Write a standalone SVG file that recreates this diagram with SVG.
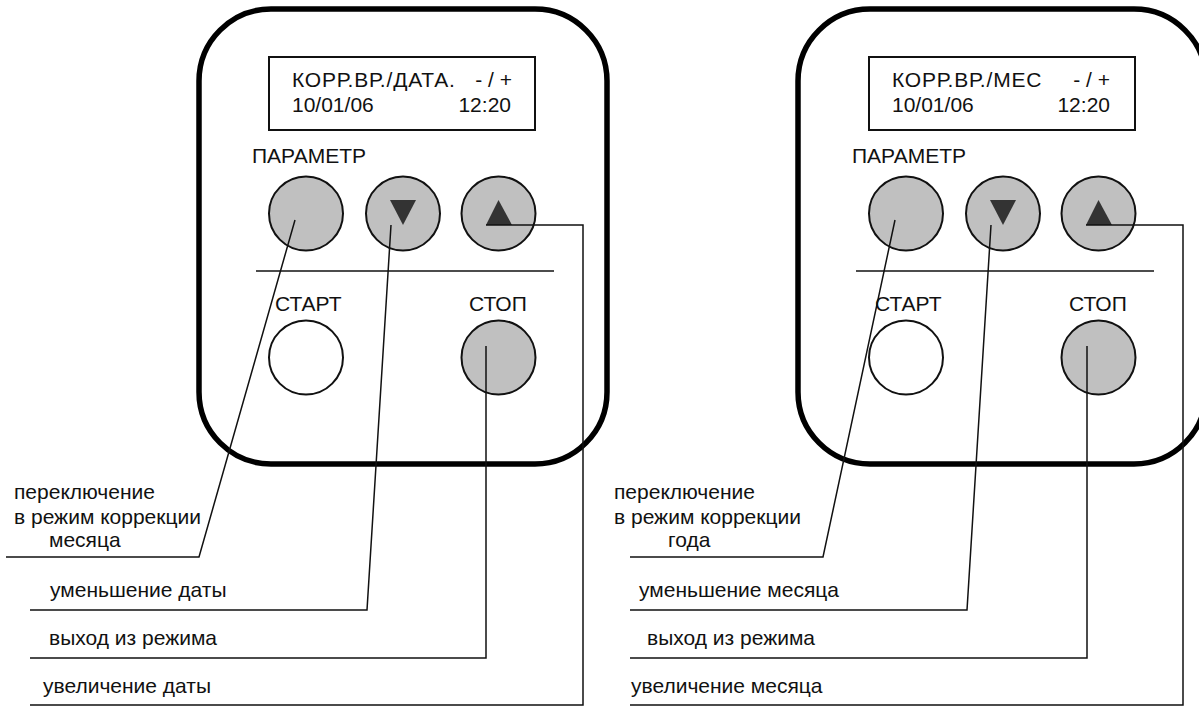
<svg xmlns="http://www.w3.org/2000/svg" width="1199" height="706" viewBox="0 0 1199 706">
<style>
text{font-family:"Liberation Sans",Arial,sans-serif;font-size:21px;fill:#111}
.l1{letter-spacing:0.8px}
.body{fill:none;stroke:#000;stroke-width:5.5}
.disp{fill:#fff;stroke:#111;stroke-width:2}
.btn{fill:#c0c0c0;stroke:#111;stroke-width:2}
.btnw{fill:#fff;stroke:#111;stroke-width:2}
.tri{fill:#333}
.div{stroke:#111;stroke-width:1.5}
.lead{fill:none;stroke:#111;stroke-width:1.5}
.end{text-anchor:end}
</style>
<rect width="1199" height="706" fill="#fff"/>
<g id="panel-left">
<rect class="body" x="199" y="9" width="408" height="455" rx="72"/>
<g id="display-left">
<rect class="disp" x="269" y="57" width="266" height="73"/>
<text class="l1" x="292" y="87">КОРР.ВР./ДАТА.</text>
<text class="end" x="512" y="87">- / +</text>
<text x="292" y="112">10/01/06</text>
<text class="end" x="511" y="112">12:20</text>
</g>
<text x="252" y="163">ПАРАМЕТР</text>
<g id="btn-param-left"><circle class="btn" cx="306" cy="213.5" r="37"/></g>
<g id="btn-down-left"><circle class="btn" cx="403" cy="213.5" r="37"/><polygon class="tri" points="390,200 416,200 403,225"/></g>
<g id="btn-up-left"><circle class="btn" cx="498.5" cy="213.5" r="37"/><polygon class="tri" points="486,225 512,225 498.5,200"/></g>
<line class="div" x1="256" y1="271" x2="554" y2="271"/>
<text x="275" y="311">СТАРТ</text>
<text x="469" y="311">СТОП</text>
<g id="btn-start-left"><circle class="btnw" cx="306" cy="357.5" r="37"/></g>
<g id="btn-stop-left"><circle class="btn" cx="498.5" cy="357.5" r="37"/></g>
</g>
<g id="panel-right">
<rect class="body" x="798" y="9" width="408" height="455" rx="72"/>
<g id="display-right">
<rect class="disp" x="869" y="57" width="266" height="73"/>
<text class="l1" x="892" y="87">КОРР.ВР./МЕС</text>
<text class="end" x="1110" y="87">- / +</text>
<text x="892" y="112">10/01/06</text>
<text class="end" x="1110" y="112">12:20</text>
</g>
<text x="852" y="163">ПАРАМЕТР</text>
<g id="btn-param-right"><circle class="btn" cx="906" cy="213.5" r="37"/></g>
<g id="btn-down-right"><circle class="btn" cx="1003" cy="213.5" r="37"/><polygon class="tri" points="990,200 1016,200 1003,225"/></g>
<g id="btn-up-right"><circle class="btn" cx="1098.5" cy="213.5" r="37"/><polygon class="tri" points="1086,225 1112,225 1098.5,200"/></g>
<line class="div" x1="856" y1="271" x2="1154" y2="271"/>
<text x="875" y="311">СТАРТ</text>
<text x="1069" y="311">СТОП</text>
<g id="btn-start-right"><circle class="btnw" cx="906" cy="357.5" r="37"/></g>
<g id="btn-stop-right"><circle class="btn" cx="1098.5" cy="357.5" r="37"/></g>
</g>
<g id="connectors">
<polyline class="lead" points="295,220 199,557 6,557"/>
<polyline class="lead" points="391,225 367,610 30,610"/>
<polyline class="lead" points="486,346 486,658 30,658"/>
<polyline class="lead" points="486,225 583,225 583,705 30,705"/>
<polyline class="lead" points="895,220 823,557 630,557"/>
<polyline class="lead" points="991,225 967,610 630,610"/>
<polyline class="lead" points="1087,346 1087,658 630,658"/>
<polyline class="lead" points="1086,225 1183,225 1183,705 630,705"/>
</g>
<g id="labels">
<text x="14" y="499">переключение</text>
<text x="14" y="524">в режим коррекции</text>
<text x="49" y="547">месяца</text>
<text x="50" y="597">уменьшение даты</text>
<text x="49" y="645">выход из режима</text>
<text x="43" y="693">увеличение даты</text>
<text x="614" y="499">переключение</text>
<text x="614" y="524">в режим коррекции</text>
<text x="668" y="547">года</text>
<text x="639" y="597">уменьшение месяца</text>
<text x="647" y="645">выход из режима</text>
<text x="631" y="693">увеличение месяца</text>
</g>
</svg>
